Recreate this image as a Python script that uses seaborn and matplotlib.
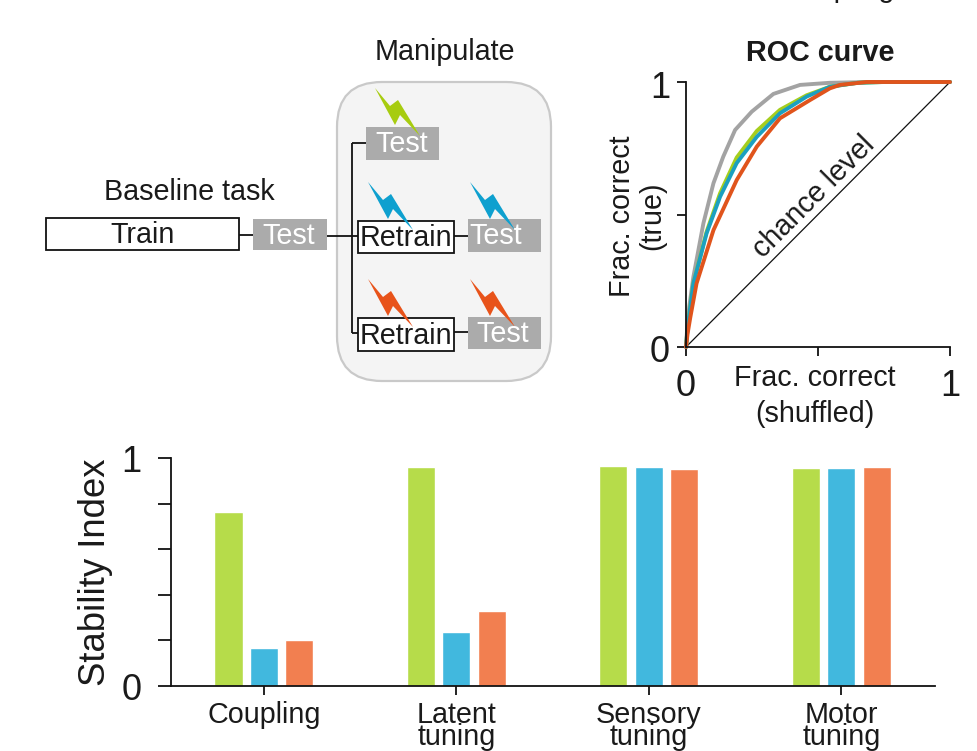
import matplotlib
matplotlib.use("Agg")
import matplotlib.pyplot as plt
from matplotlib.patches import Rectangle, FancyBboxPatch, Polygon
from matplotlib.transforms import ScaledTranslation
import pandas as pd
import seaborn as sns

W, H = 977, 751

features = ["Coupling", "Latent\ntuning", "Sensory\ntuning", "Motor\ntuning"]
conditions = ["Test", "Retrain A", "Retrain B"]
stability_test = [0.764, 0.96, 0.964, 0.956]
stability_retrain_a = [0.166, 0.236, 0.96, 0.956]
stability_retrain_b = [0.201, 0.329, 0.951, 0.96]

roc_gray_x = [0, 0.005, 0.012, 0.028, 0.066, 0.104, 0.141, 0.186, 0.249, 0.331, 0.432, 0.545, 0.70, 1]
roc_gray_y = [0, 0.08, 0.15, 0.265, 0.467, 0.618, 0.718, 0.819, 0.888, 0.955, 0.989, 0.997, 1, 1]
roc_green_x = [0, 0.005, 0.012, 0.028, 0.078, 0.129, 0.192, 0.268, 0.356, 0.457, 0.545, 0.65, 0.75, 1]
roc_green_y = [0, 0.06, 0.12, 0.24, 0.435, 0.58, 0.715, 0.815, 0.895, 0.95, 0.982, 0.997, 1, 1]
roc_blue_x = [0, 0.005, 0.012, 0.028, 0.078, 0.129, 0.192, 0.268, 0.356, 0.457, 0.545, 0.65, 0.75, 1]
roc_blue_y = [0, 0.06, 0.12, 0.24, 0.429, 0.567, 0.694, 0.793, 0.882, 0.945, 0.982, 0.997, 1, 1]
roc_orange_x = [0, 0.006, 0.016, 0.04, 0.104, 0.192, 0.268, 0.356, 0.47, 0.545, 0.583, 0.684, 1]
roc_orange_y = [0, 0.05, 0.11, 0.24, 0.441, 0.63, 0.756, 0.863, 0.932, 0.976, 0.989, 1, 1]

BAR_COLORS = ["#B6DC4A", "#41B8DE", "#F27F50"]
LINE_GRAY, LINE_GREEN, LINE_BLUE, LINE_ORANGE = "#A3A3A3", "#A6CE1E", "#1BA0C0", "#E0541C"
BOLT_GREEN, BOLT_BLUE, BOLT_ORANGE = "#A7CC10", "#0EA0CF", "#E8531A"
BOX_GRAY = "#ABABAB"
FS = 20.7
TICK_FS = 26

sns.set_theme(style="ticks")
plt.rcParams["font.family"] = ["Liberation Sans", "DejaVu Sans"]

fig = plt.figure(figsize=(W / 100, H / 100), dpi=100)


def axes_px(x0, y_top, x1, y_bot, **kw):
    return fig.add_axes([x0 / W, 1 - y_bot / H, (x1 - x0) / W, (y_bot - y_top) / H], **kw)


# Schematic layer in pixel coordinates
bg = axes_px(0, 0, W, H)
bg.set_xlim(0, W)
bg.set_ylim(H, 0)
bg.axis("off")

bg.add_patch(FancyBboxPatch((337 + 45, 82 + 45), 214 - 90, 299 - 90, boxstyle="round,pad=45,rounding_size=45",
                            fc="#F4F4F4", ec="#C9C9C9", lw=1.6))


def text(x, y, s, size=FS, color="#1A1A1A", **kw):
    kw.setdefault("ha", "center")
    kw.setdefault("va", "center")
    return bg.text(x, y, s, fontsize=size, color=color, **kw)


def line(xs, ys, lw=1.3, color="#111111"):
    bg.plot(xs, ys, color=color, lw=lw, solid_capstyle="butt", zorder=2)


line([239, 253], [235, 235])
line([327, 358], [236, 236])
line([352, 352], [143, 333])
line([352, 366], [143, 143])
line([352, 358], [333, 333])
line([454, 468], [236, 236])
line([454, 468], [332, 332])


def gray_box(x0, y0, x1, y1, tx):
    bg.add_patch(Rectangle((x0, y0), x1 - x0, y1 - y0, fc=BOX_GRAY, ec="none", zorder=3))
    text(tx, (y0 + y1) / 2 + 1, "Test", color="white", zorder=6)


def white_box(x0, y0, x1, y1, s):
    bg.add_patch(Rectangle((x0, y0), x1 - x0, y1 - y0, fc="white", ec="#111111", lw=1.3, zorder=3))
    text((x0 + x1) / 2, (y0 + y1) / 2 + 1, s, zorder=6)


white_box(46, 218, 239, 250, "Train")
white_box(358, 221, 454, 253, "Retrain")
white_box(358, 318, 454, 351, "Retrain")
gray_box(253, 219, 327, 250, 289)
gray_box(366, 127, 439, 160, 402)
gray_box(468, 219, 541, 252, 496)
gray_box(468, 317, 541, 349, 503)


def bolt(tx, ty, color):
    shape = [(0, 0), (15, 18), (23, 12), (45, 48), (25, 27), (20, 37)]
    bg.add_patch(Polygon([(tx + a, ty + b) for a, b in shape], closed=True, fc=color, ec="none", zorder=5))


bolt(375, 88, BOLT_GREEN)
bolt(368, 182, BOLT_BLUE)
bolt(470, 182, BOLT_BLUE)
bolt(368, 279, BOLT_ORANGE)
bolt(470, 279, BOLT_ORANGE)

text(445, 52, "Manipulate")
text(189, 192, "Baseline task")
text(838, -3, "Coupling", va="baseline")

# ROC panel
ax = axes_px(686, 82, 950, 347)
ax.patch.set_alpha(0)
ax.plot([0, 1], [0, 1], color="#111111", lw=0.9)
for xs, ys, c in [(roc_gray_x, roc_gray_y, LINE_GRAY), (roc_green_x, roc_green_y, LINE_GREEN),
                  (roc_blue_x, roc_blue_y, LINE_BLUE), (roc_orange_x, roc_orange_y, LINE_ORANGE)]:
    sns.lineplot(x=xs, y=ys, color=c, lw=2.8, ax=ax, estimator=None, sort=False, clip_on=False)
ax.set_xlim(0, 1)
ax.set_ylim(0, 1)
ax.set_xticks([0, 0.5, 1], ["0", "", "1"])
ax.set_yticks([0, 0.5, 1], ["0", "", "1"])
ax.tick_params(length=6.5, width=1.3, color="#111111", labelsize=TICK_FS, labelcolor="#1A1A1A")
ax.tick_params(axis="x", pad=9)
ax.tick_params(axis="y", pad=5)
nudge = ScaledTranslation(0, -2 / 100, fig.dpi_scale_trans)
for lab in ax.get_yticklabels():
    lab.set_transform(lab.get_transform() + nudge)
sns.despine(ax=ax)
for s in ("left", "bottom"):
    ax.spines[s].set_linewidth(1.3)
    ax.spines[s].set_color("#111111")
ax.set_title("ROC curve", fontsize=FS, fontweight="bold", color="#1A1A1A", pad=15, x=0.508)
ax.text(0.485, 0.565, "chance level", rotation=45, rotation_mode="anchor", ha="center", va="center",
        fontsize=FS, color="#1A1A1A", transform=ax.transAxes)
text(815, 396, "Frac. correct\n(shuffled)", linespacing=1.4)
text(637, 216, "Frac. correct\n(true)", rotation=90, linespacing=1.12)

# Bars
df = pd.DataFrame({
    "feature": features * 3,
    "condition": [c for c in conditions for _ in features],
    "value": stability_test + stability_retrain_a + stability_retrain_b,
})
ax2 = axes_px(171, 458, 935, 686)
ax2.patch.set_alpha(0)
sns.barplot(data=df, x="feature", y="value", hue="condition", order=features, hue_order=conditions,
            palette=BAR_COLORS, width=0.553, gap=0.21, saturation=1, legend=False, ax=ax2)
ax2.set_xlim(-0.483, 3.486)
ax2.set_ylim(0, 1)
ax2.set_xlabel("")
ax2.set_ylabel("Stability Index", fontsize=26.3, color="#1A1A1A", labelpad=6)
ax2.set_yticks([0, 0.2, 0.4, 0.6, 0.8, 1], ["0", "", "", "", "", "1"])
ax2.tick_params(axis="y", length=9.5, width=1.3, color="#111111", labelsize=TICK_FS, labelcolor="#1A1A1A", pad=11.5)
ax2.tick_params(axis="x", length=6.5, width=1.3, color="#111111", labelsize=FS, labelcolor="#1A1A1A", pad=4)
for lab in ax2.get_xticklabels():
    lab.set_linespacing(0.73)
sns.despine(ax=ax2)
for s in ("left", "bottom"):
    ax2.spines[s].set_linewidth(1.3)
    ax2.spines[s].set_color("#111111")

fig.savefig("out.png", dpi=100)
